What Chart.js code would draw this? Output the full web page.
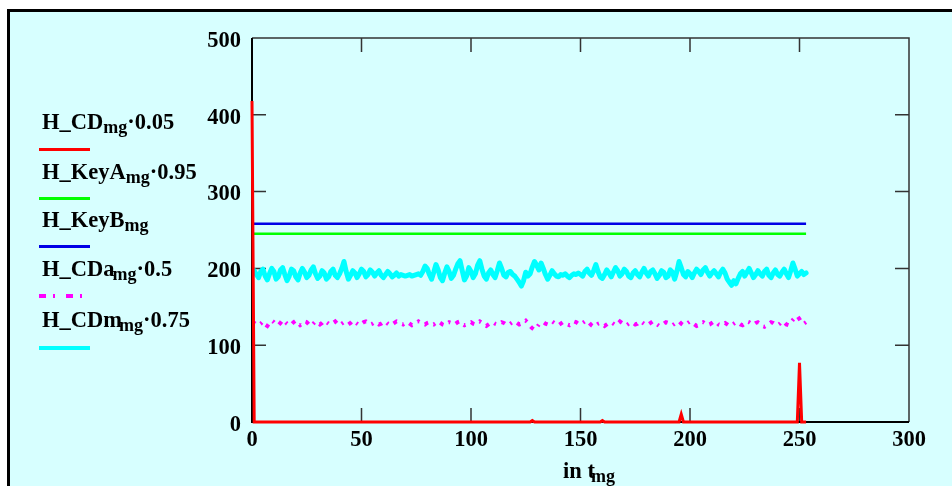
<!DOCTYPE html>
<html>
<head>
<meta charset="utf-8">
<script src="https://cdn.jsdelivr.net/npm/chart.js@4/dist/chart.umd.min.js"></script>
<style>
  html, body { margin: 0; padding: 0; background: #fff; overflow: hidden; }
  #wrap { position: relative; width: 952px; height: 486px; overflow: hidden; }
  #panel { position: absolute; left: 7px; top: 9px; width: 1000px; height: 1000px;
           border: 3px solid #000; background: #d7ffff; }
  #plot { position: absolute; left: 0; top: 0; width: 952px; height: 486px; }
  .lab { position: absolute; font: bold 22.5px "Liberation Serif", serif; line-height: 22px;
         color: #000; white-space: nowrap; }
  .lab sub { font-size: 18px; vertical-align: baseline; position: relative; top: 4px; }
  .key { position: absolute; left: 39px; width: 51px; height: 3px; }
</style>
</head>
<body>
<div id="wrap">
  <div id="panel"></div>
  <canvas id="plot" width="952" height="486"></canvas>

  <div class="lab" style="left:42px; top:111px">H_CD<sub>mg</sub>·0.05</div>
  <div class="key" style="top:148px; background:#ff0000"></div>
  <div class="lab" style="left:42px; top:161px">H_KeyA<sub>mg</sub>·0.95</div>
  <div class="key" style="top:197px; background:#00ff00"></div>
  <div class="lab" style="left:42px; top:209px">H_KeyB<sub>mg</sub></div>
  <div class="key" style="top:245px; background:#0000e6"></div>
  <div class="lab" style="left:42px; top:258px">H_CDa<sub style="margin-left:-2px">mg</sub>·0.5</div>
  <svg class="key" style="top:294px; height:4px" width="51" height="4">
    <line x1="0" y1="2" x2="51" y2="2" stroke="#ff00ff" stroke-width="4" stroke-dasharray="7,7,2,11"/>
  </svg>
  <div class="lab" style="left:42px; top:309px">H_CDm<sub style="margin-left:-3px">mg</sub>·0.75</div>
  <div class="key" style="top:346px; height:4px; background:#00ffff"></div>

  <div class="lab" style="left:563px; top:460px">in t<sub style="margin-left:-4px">mg</sub></div>
</div>

<script>
// tick labels
const xTicks = [0, 50, 100, 150, 200, 250, 300];
const yTicks = [0, 100, 200, 300, 400, 500];

// H_CD*0.05 : flat at zero apart from a few spikes
const cdX = [0, 1, 127, 128, 129, 159, 160, 161, 195, 196, 197, 249, 250, 251, 253];
const cdY = [418, 0, 0, 2, 0, 0, 2, 0, 0, 10, 0, 0, 77, 0, 0];

// H_KeyA*0.95 and H_KeyB : constant lines
const keyX = [0, 253];
const keyAY = [245, 245];
const keyBY = [258, 258];

// H_CDa*0.5, one value per sample 0..253
const cdaY = [
  131,129,127,126,128,131,127,125,129,132,130,127,126,129,133,131,128,126,127,130,
  132,129,126,128,131,130,127,125,128,131,129,127,129,132,130,128,127,129,131,128,
  126,128,130,129,127,129,132,130,128,126,128,130,131,129,127,128,130,129,127,128,
  130,131,128,126,127,129,131,130,128,127,129,130,128,126,127,129,131,129,128,127,
  129,130,128,127,129,131,129,127,126,128,130,129,127,128,130,131,128,126,127,129,
  130,128,127,129,131,129,126,125,127,129,130,128,127,128,130,129,127,126,128,130,
  131,129,127,128,130,132,129,125,122,120,123,127,129,130,128,127,129,131,129,127,
  126,128,130,129,127,126,128,131,130,128,127,129,131,132,129,126,124,126,128,129,
  127,125,127,129,130,128,126,128,131,129,127,126,128,130,129,127,128,131,130,128,
  126,127,129,131,130,127,125,126,128,130,129,127,126,128,130,131,128,126,127,129,
  131,129,127,125,126,129,130,128,126,127,129,131,130,127,126,128,129,127,125,126,
  128,130,129,127,126,128,131,130,128,127,129,130,128,125,124,126,128,130,129,127,
  126,128,131,130,127,126,129,133,136,138,134,129,128,130
];

// H_CDm*0.75, one value per sample 0..253
const cdmY = [
  195,197,192,188,196,199,190,185,193,200,196,186,189,198,201,192,184,190,199,197,
  189,185,194,200,195,188,191,198,202,193,187,190,197,194,186,189,196,199,191,188,
  193,200,209,196,186,191,197,194,188,193,199,196,189,192,198,195,190,194,197,191,
  188,192,196,193,189,191,194,190,192,191,190,191,192,190,191,192,193,191,196,203,
  200,192,186,195,205,198,188,184,194,202,196,187,191,199,206,210,197,185,190,201,
  196,188,193,204,210,199,190,186,194,198,192,188,197,207,200,191,189,195,196,192,
  190,186,182,177,184,195,190,193,202,209,204,198,207,200,192,186,191,197,193,190,
  189,192,191,193,190,188,191,193,192,194,192,190,196,199,194,191,197,205,196,189,
  187,192,198,194,189,195,201,197,190,193,199,196,190,188,194,197,192,189,195,200,
  194,190,196,198,193,187,191,197,195,188,190,198,195,186,196,209,201,192,189,196,
  193,188,194,199,196,192,198,201,195,190,194,197,193,189,195,199,194,186,182,178,
  184,180,187,193,196,190,195,200,194,188,192,197,193,190,196,199,191,188,194,198,
  192,190,195,199,193,188,197,207,199,190,193,196,192,194
];

const pts = (xs, ys) => ys.map((v, i) => ({ x: xs[i], y: v }));
const seq = ys => ys.map((v, i) => ({ x: i, y: v }));

// box round the plot with short inward ticks on all four sides
const framePlugin = {
  id: 'frame',
  beforeDatasetsDraw(chart) {
    const { ctx, chartArea: a, scales: { x, y } } = chart;
    ctx.save();
    ctx.strokeStyle = '#333';
    ctx.lineWidth = 1.5;
    ctx.beginPath();
    ctx.moveTo(a.left, a.top); ctx.lineTo(a.right, a.top); ctx.lineTo(a.right, a.bottom);
    xTicks.forEach(v => {
      const px = x.getPixelForValue(v);
      ctx.moveTo(px, a.bottom); ctx.lineTo(px, a.bottom - 14);
      ctx.moveTo(px, a.top); ctx.lineTo(px, a.top + 14);
    });
    yTicks.forEach(v => {
      const py = y.getPixelForValue(v);
      ctx.moveTo(a.left, py); ctx.lineTo(a.left + 14, py);
      ctx.moveTo(a.right, py); ctx.lineTo(a.right - 14, py);
    });
    ctx.stroke();
    ctx.strokeStyle = '#000';
    ctx.lineWidth = 2;
    ctx.beginPath();
    ctx.moveTo(a.left, a.top); ctx.lineTo(a.left, a.bottom); ctx.lineTo(a.right, a.bottom);
    ctx.stroke();
    ctx.restore();
  }
};

Chart.defaults.font.family = '"Liberation Serif", serif';
Chart.defaults.font.size = 22.5;
Chart.defaults.font.weight = 'bold';
Chart.defaults.color = '#000';

new Chart(document.getElementById('plot'), {
  type: 'line',
  data: {
    datasets: [
      { label: 'H_CD', data: pts(cdX, cdY), borderColor: '#ff0000', borderWidth: 3, clip: false },
      { label: 'H_KeyA', data: pts(keyX, keyAY), borderColor: '#00ff00', borderWidth: 2.5 },
      { label: 'H_KeyB', data: pts(keyX, keyBY), borderColor: '#0000e6', borderWidth: 2.5 },
      { label: 'H_CDa', data: seq(cdaY), borderColor: '#ff00ff', borderWidth: 4, borderDash: [4, 6, 2, 6] },
      { label: 'H_CDm', data: seq(cdmY), borderColor: '#00ffff', borderWidth: 5,
        borderJoinStyle: 'round', borderCapStyle: 'round' }
    ]
  },
  options: {
    responsive: false,
    animation: false,
    events: [],
    layout: { padding: { left: 172, right: 43, top: 38, bottom: 24 } },
    elements: { point: { radius: 0 }, line: { tension: 0, fill: false } },
    plugins: { legend: { display: false }, tooltip: { enabled: false } },
    scales: {
      x: {
        type: 'linear', min: 0, max: 300,
        afterFit: s => { s.height = 40; },
        grid: { display: false, drawTicks: false },
        border: { display: false },
        ticks: { stepSize: 50, padding: 5, maxRotation: 0 }
      },
      y: {
        min: 0, max: 500,
        afterFit: s => { s.width = 80; },
        grid: { display: false, drawTicks: false },
        border: { display: false },
        ticks: { stepSize: 100, padding: 11, labelOffset: 3 }
      }
    }
  },
  plugins: [framePlugin]
});
</script>
</body>
</html>
